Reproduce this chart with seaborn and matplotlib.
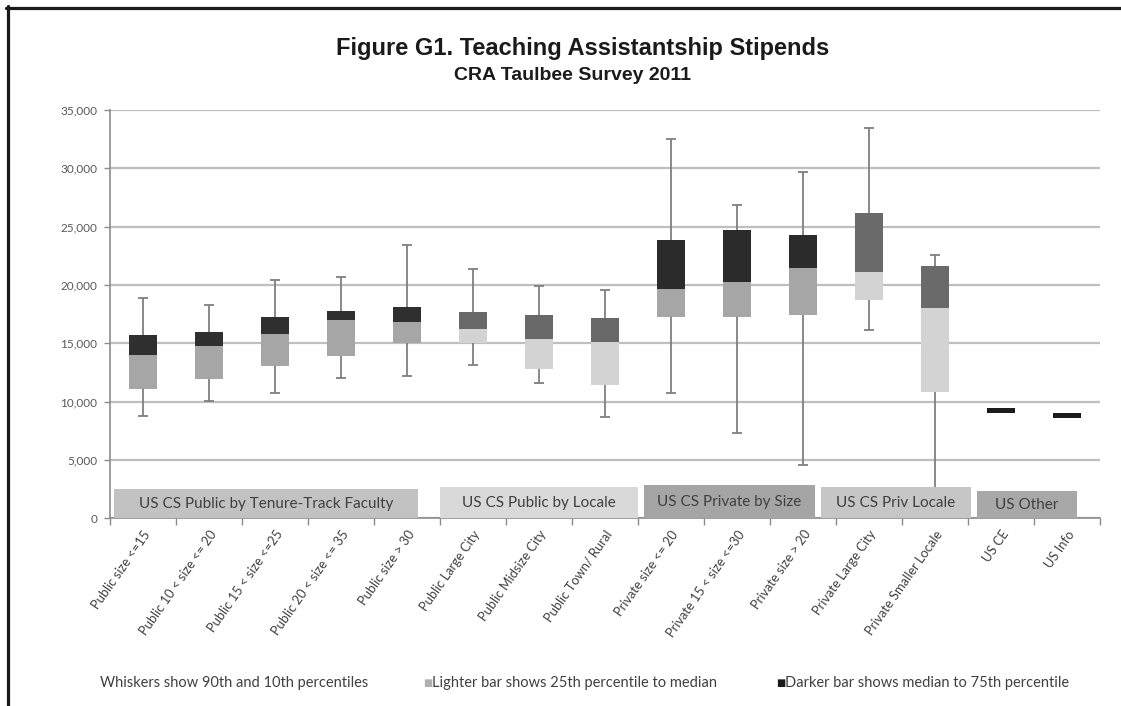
import numpy as np
import pandas as pd
import seaborn as sns
import matplotlib.pyplot as plt
from matplotlib.lines import Line2D
from matplotlib.patches import Rectangle
import matplotlib.ticker as mticker

categories = [
    "Public size <=15", "Public 10 < size <= 20", "Public 15 < size <=25",
    "Public 20 < size <= 35", "Public size > 30", "Public Large City",
    "Public Midsize City", "Public Town/ Rural", "Private size <= 20",
    "Private 15 < size <=30", "Private size > 20", "Private Large City",
    "Private Smaller Locale", "US CE", "US Info",
]
p10 = [8800, 10100, 10750, 12000, 12250, 13150, 11650, 8700, 10750, 7300, 4550, 16150, 2500, np.nan, np.nan]
p25 = [11100, 11950, 13100, 13900, 15000, 15000, 12800, 11400, 17300, 17250, 17450, 18750, 10850, 9030, 8620]
p50 = [14000, 14800, 15800, 17000, 16850, 16200, 15350, 15100, 19700, 20250, 21500, 21150, 18000, 9030, 8620]
p75 = [15700, 15950, 17250, 17750, 18100, 17700, 17400, 17200, 23900, 24700, 24250, 26150, 21650, 9450, 9080]
p90 = [18850, 18300, 20450, 20650, 23400, 21400, 19950, 19550, 32550, 26850, 29700, 33450, 22550, np.nan, np.nan]

group_names = ["US CS Public by Tenure-Track Faculty", "US CS Public by Locale",
               "US CS Private by Size", "US CS Priv Locale", "US Other"]

# styles
light_colors = ["#a6a6a6"] * 5 + ["#d3d3d3"] * 3 + ["#a6a6a6"] * 3 + ["#d3d3d3"] * 2 + ["#a6a6a6"] * 2
dark_colors = ["#2f2f2f"] * 5 + ["#686868"] * 3 + ["#2b2b2b"] * 3 + ["#6a6a6a"] * 2 + ["#1c1c1c"] * 2
band_extent = [(-0.44, 4.17, 2500), (4.5, 7.5, 2700), (7.59, 10.18, 2870),
               (10.28, 12.54, 2700), (12.64, 14.15, 2350)]
band_colors = ["#c2c2c2", "#d9d9d9", "#a5a5a5", "#c6c6c6", "#a8a8a8"]

df = pd.DataFrame({"category": categories, "p25": p25, "p50": p50, "p75": p75})
df["light"] = df["p50"] - df["p25"]
df["dark"] = df["p75"] - df["p50"]

sns.set_style("white")
plt.rcParams["font.family"] = ["Lato", "DejaVu Sans"]

fig = plt.figure(figsize=(11.21, 7.06), dpi=100)
ax = fig.add_axes([0.0981, 0.2656, 0.8831, 0.5786])

# whiskers behind the boxes
xs = np.arange(len(categories))
lo = np.array(p10, dtype=float)
hi = np.array(p90, dtype=float)
ok = ~np.isnan(lo)
ax.vlines(xs[ok], lo[ok], hi[ok], color="#7f7f7f", lw=1.3, zorder=2)
ax.hlines(lo[ok], xs[ok] - 0.07, xs[ok] + 0.07, color="#7f7f7f", lw=1.3, zorder=2)
ax.hlines(hi[ok], xs[ok] - 0.07, xs[ok] + 0.07, color="#7f7f7f", lw=1.3, zorder=2)

sns.barplot(data=df, x="category", y="light", bottom=df["p25"].to_numpy(),
            width=0.42, color="#a6a6a6", saturation=1, errorbar=None,
            linewidth=0, zorder=3, ax=ax)
n_light = len(ax.patches)
sns.barplot(data=df, x="category", y="dark", bottom=df["p50"].to_numpy(),
            width=0.42, color="#2f2f2f", saturation=1, errorbar=None,
            linewidth=0, zorder=3, ax=ax)
for patch, c in zip(ax.patches[:n_light], light_colors):
    patch.set_facecolor(c)
for patch, c in zip(ax.patches[n_light:], dark_colors):
    patch.set_facecolor(c)

# group label bands
for (x0, x1, top), name, c in zip(band_extent, group_names, band_colors):
    ax.add_patch(Rectangle((x0, 0), x1 - x0, top, facecolor=c, edgecolor="none", zorder=4))
    ax.text((x0 + x1) / 2, top / 2, name, ha="center", va="center",
            fontsize=11, color="#404040", zorder=5)

ax.set_xlim(-0.5, len(categories) - 0.5)
ax.set_ylim(0, 35000)
ax.yaxis.set_major_locator(mticker.MultipleLocator(5000))
ax.yaxis.set_major_formatter(mticker.StrMethodFormatter("{x:,.0f}"))
ax.yaxis.grid(True, color="#bfbfbf", lw=1.6, zorder=0)
ax.set_axisbelow(True)
ax.set_xlabel("")
ax.set_ylabel("")
for s in ["top", "right"]:
    ax.spines[s].set_visible(False)
for s in ["left", "bottom"]:
    ax.spines[s].set_color("#8c8c8c")
    ax.spines[s].set_linewidth(1.2)
ax.tick_params(axis="y", length=4, width=1, color="#8c8c8c", labelsize=8.5,
               labelcolor="#595959", pad=5, left=True)
ax.set_xticks(xs)
ax.set_xticklabels(categories, rotation=55, ha="right", rotation_mode="anchor",
                   fontsize=9.3, color="#404040")
ax.tick_params(axis="x", length=0, pad=7)
ax.set_xticks(np.arange(-0.5, len(categories), 1), minor=True)
ax.tick_params(axis="x", which="minor", length=5, width=1, color="#8c8c8c", bottom=True)

# titles
fig.text(0.52, 0.932, "Figure G1. Teaching Assistantship Stipends", ha="center",
         va="center", fontsize=17, fontweight="bold",
         family=["Liberation Sans"], color="#1a1a1a")
fig.text(0.511, 0.893, "CRA Taulbee Survey 2011", ha="center", va="center",
         fontsize=14, fontweight="bold",
         family=["Liberation Sans"], color="#1a1a1a")

# legend notes
fy = 1 - 683 / 706
fig.text(100 / 1121, fy, "Whiskers show 90th and 10th percentiles", ha="left",
         va="center", fontsize=10.5, color="#404040")
fig.text(423 / 1121, fy, "\u25a0", ha="left", va="center", fontsize=7,
         color="#b0b0b0", family=["DejaVu Sans"])
fig.text(432 / 1121, fy, "Lighter bar shows 25th percentile to median", ha="left",
         va="center", fontsize=10.5, color="#404040")
fig.text(776 / 1121, fy, "\u25a0", ha="left", va="center", fontsize=7,
         color="#1a1a1a", family=["DejaVu Sans"])
fig.text(785 / 1121, fy, "Darker bar shows median to 75th percentile", ha="left",
         va="center", fontsize=10.5, color="#404040")

# outer frame (top and left)
fig.add_artist(Line2D([6 / 1121, 1], [1 - 7.5 / 706] * 2, color="#1a1a1a", lw=2.3,
                      transform=fig.transFigure))
fig.add_artist(Line2D([7.5 / 1121] * 2, [0, 1 - 6 / 706], color="#1a1a1a", lw=2.3,
                      transform=fig.transFigure))

fig.savefig("out.png", dpi=100)
